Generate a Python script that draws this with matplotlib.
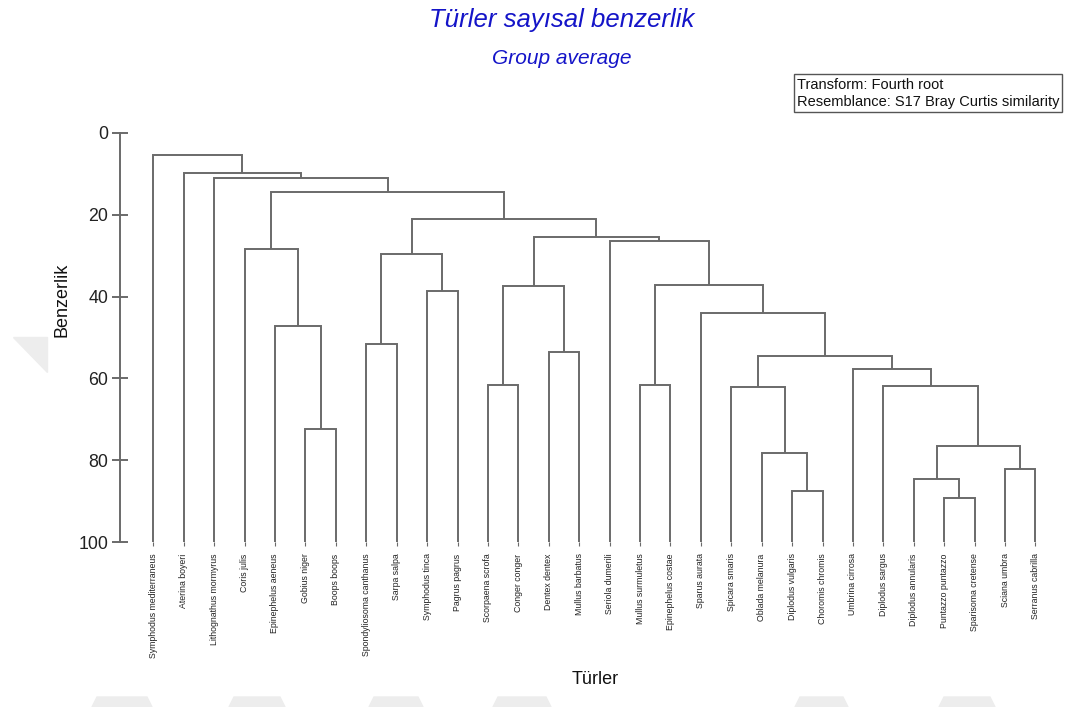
import matplotlib.pyplot as plt
from matplotlib.patches import Polygon, Rectangle

# species, in the left-to-right order of the dendrogram leaves
species = [
    "Symphodus mediterraneus", "Aterina boyeri", "Lithognathus mormyrus",
    "Coris julis", "Epinephelus aeneus", "Gobius niger", "Boops boops",
    "Spondyliosoma canthanus", "Sarpa salpa", "Symphodus tinca",
    "Pagrus pagrus", "Scorpaena scrofa", "Conger conger", "Dentex dentex",
    "Mullus barbatus", "Seriola dumerili", "Mullus surmuletus",
    "Epinephelus costae", "Sparus aurata", "Spicara smaris",
    "Oblada melanura", "Diplodus vulgaris", "Choromis chromis",
    "Umbrina cirrosa", "Diplodus sargus", "Diplodus annularis",
    "Puntazzo puntazzo", "Sparisoma cretense", "Sciana umbra",
    "Serranus cabrilla",
]

# group-average merges, linkage style: ids >= len(species) refer to
# earlier merges (len(species) + row number)
merge_left = [5, 4, 3, 7, 9, 33, 11, 13, 36, 16, 21, 20, 19, 26, 25, 28,
              44, 24, 23, 42, 18, 39, 15, 38, 35, 32, 2, 1, 0]
merge_right = [6, 30, 31, 8, 10, 34, 12, 14, 37, 17, 22, 40, 41, 27, 43, 29,
               45, 46, 47, 48, 49, 50, 51, 52, 53, 54, 55, 56, 57]
merge_similarity = [72.4, 47.2, 28.5, 51.7, 38.7, 29.5, 61.7, 53.5, 37.5,
                    61.7, 87.4, 78.2, 62.1, 89.1, 84.5, 82.1, 76.5, 61.9,
                    57.6, 54.4, 43.9, 37.1, 26.5, 25.4, 21.1, 14.5, 11.0,
                    9.9, 5.4]

y_ticks = [0, 20, 40, 60, 80, 100]

info_lines = ["Transform: Fourth root",
              "Resemblance: S17 Bray Curtis similarity"]

line_color = "#6a6a6a"
title_color = "#1414c8"

plt.rcParams["font.family"] = ["Liberation Sans", "DejaVu Sans"]

fig = plt.figure(figsize=(10.70, 7.07), dpi=100)
W, H = 1070, 707


def fx(px):
    return px / W


def fy(py):
    return 1 - py / H


# faint background marks
wm_color = "#ededed"
for x0, x1 in [(92, 147), (229, 280), (369, 418), (493, 546), (795, 843),
               (939, 990)]:
    fig.patches.append(Polygon(
        [(fx(x0), fy(707)), (fx(x0 + 5), fy(697)), (fx(x1), fy(697)),
         (fx(x1 + 5), fy(707))],
        closed=True, transform=fig.transFigure, color=wm_color, zorder=0))
fig.patches.append(Polygon(
    [(fx(13), fy(337)), (fx(47), fy(337)), (fx(47), fy(372))],
    closed=True, transform=fig.transFigure, color=wm_color, zorder=0))

ax = fig.add_axes([fx(120), fy(542.3), fx(940), 409.6 / H])
ax.patch.set_alpha(0)

n = len(species)
node_x = {i: float(i) for i in range(n)}
node_h = {i: 100.0 for i in range(n)}

for k, (a, b, s) in enumerate(zip(merge_left, merge_right, merge_similarity)):
    xa, xb = node_x[a], node_x[b]
    ax.plot([xa, xa, xb, xb], [node_h[a], s, s, node_h[b]],
            color=line_color, lw=1.4, solid_joinstyle="miter",
            solid_capstyle="butt")
    node_x[n + k] = (xa + xb) / 2
    node_h[n + k] = s

step = 30.42
ax.set_xlim(-(153.3 - 120) / step, n - 1 + (1060 - 1035.5) / step)
ax.set_ylim(100, 0)

for side in ["top", "right", "bottom"]:
    ax.spines[side].set_visible(False)
ax.spines["left"].set_color(line_color)
ax.spines["left"].set_linewidth(1.4)

ax.set_yticks(y_ticks)
ax.tick_params(axis="y", direction="inout", length=11, width=1.4,
               color=line_color, labelsize=12.8, pad=3, labelcolor="#222222")
ax.set_xticks(range(n))
ax.set_xticklabels(species, rotation=90, fontsize=6.3, color="#222222")
ax.tick_params(axis="x", direction="out", length=3, width=0.8,
               color=line_color, pad=5)

fig.text(fx(562), fy(20), "Türler sayısal benzerlik", color=title_color,
         fontsize=18.5, style="italic", ha="center", va="center")
fig.text(fx(562), fy(59), "Group average", color=title_color,
         fontsize=15, style="italic", ha="center", va="center")

fig.text(fx(62), fy(300), "Benzerlik", rotation=90, fontsize=13,
         ha="center", va="center", color="#111111")
fig.text(fx(595), fy(679), "Türler", fontsize=13,
         ha="center", va="center", color="#111111")

# transform / resemblance box
fig.patches.append(Rectangle((fx(794), fy(112)), fx(1062 - 794), 38 / H,
                             transform=fig.transFigure, fc="white",
                             ec="#555555", lw=1.0, zorder=1))
for i, line in enumerate(info_lines):
    fig.text(fx(797), fy(85 + 17 * i), line, fontsize=10.5, ha="left",
             va="center", color="#111111", zorder=2)

fig.savefig("out.png", dpi=100)
